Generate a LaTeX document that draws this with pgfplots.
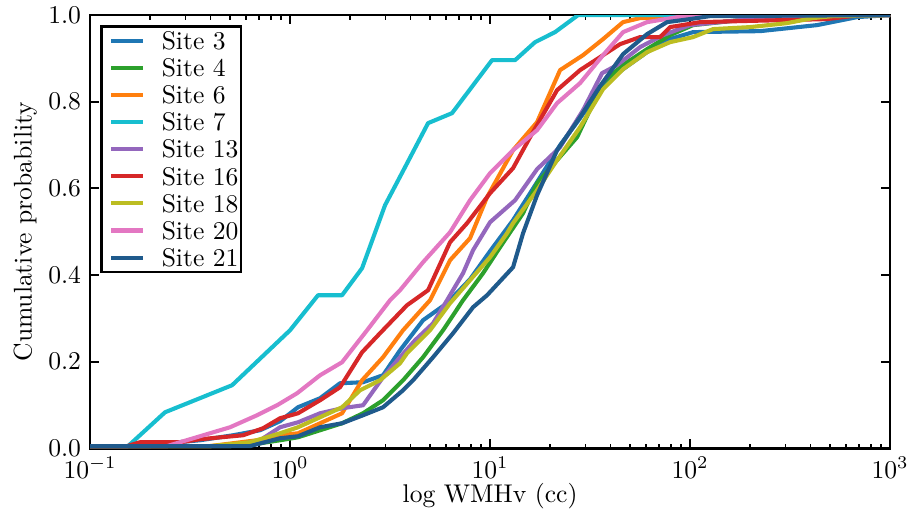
\documentclass[border=0pt]{standalone}
\usepackage{pgfplots}
\pgfplotsset{compat=1.18}
\usetikzlibrary{calc}
\definecolor{cA}{HTML}{1F77B4}
\definecolor{cB}{HTML}{2CA02C}
\definecolor{cC}{HTML}{FF7F0E}
\definecolor{cD}{HTML}{17BECF}
\definecolor{cE}{HTML}{9467BD}
\definecolor{cF}{HTML}{D62728}
\definecolor{cG}{HTML}{BCBD22}
\definecolor{cH}{HTML}{E377C2}
\definecolor{cI}{HTML}{1F5A8C}
\begin{document}
\begin{tikzpicture}
\begin{axis}[name=ax, scale only axis, width=312.7pt, height=169.3pt,
  xmode=log, xmin=0.1, xmax=1000, ymin=0, ymax=1,
  ytick={0,0.2,0.4,0.6,0.8,1},
  yticklabel style={/pgf/number format/.cd, fixed, fixed zerofill, precision=1},
  axis line style={line width=1pt, black},
  tick align=inside,
  major tick length=3.5pt, minor tick length=1.8pt,
  every tick/.style={black, line width=0.7pt},
  xlabel={log WMHv (cc)}, ylabel={Cumulative probability},
  xlabel style={at={(axis description cs:0.5,-0.111)}, anchor=center},
  ylabel style={at={(axis description cs:-0.081,0.5)}, anchor=center},
  every axis plot/.append style={line width=1.6pt, line join=round},
  legend style={at={(0.0125,0.977)}, anchor=north west, draw=black, line width=1pt,
    fill=white, font=\normalsize, row sep=0pt, inner xsep=0pt, inner ysep=0.3pt,
    nodes={inner xsep=1pt, inner ysep=1.85pt, text height=6.9pt, text depth=0pt},
    /tikz/every odd column/.append style={column sep=5.5pt}},
  legend cell align=left,
  legend image code/.code={\path (-3pt,0pt); \draw[#1] (0cm,0cm) -- (0.44cm,0cm);},
]
\addplot[cA] coordinates {(0.1,0.005)(0.1995,0.005)(0.2427,0.0115)(0.3548,0.0185)(0.5188,0.03)(0.7079,0.0416)(0.8913,0.0624)(1.096,0.0947)(1.413,0.1155)(1.778,0.1501)(2.317,0.1524)(2.917,0.1686)(3.548,0.2263)(4.624,0.2956)(6.095,0.3349)(7.943,0.3903)(10,0.455)(13.03,0.5266)(17.18,0.6143)(22.39,0.6998)(28.18,0.7621)(36.73,0.8383)(46.24,0.8753)(60.95,0.9145)(79.43,0.9446)(103.5,0.9607)(223.9,0.963)(431.5,0.9769)(683.9,0.9954)(1000,1.0)};
\addlegendentry{Site 3}
\addplot[cB] coordinates {(0.1,0.005)(0.5012,0.005)(0.7079,0.0115)(0.8913,0.0185)(1.096,0.0254)(1.413,0.0416)(1.820,0.0577)(2.317,0.0808)(2.917,0.1109)(3.673,0.157)(4.624,0.2102)(5.821,0.2725)(7.328,0.3418)(9.226,0.4042)(11.22,0.4642)(14.62,0.5427)(17.18,0.612)(21.63,0.6651)(27.23,0.7182)(36.73,0.845)(46.24,0.885)(60.95,0.9215)(79.43,0.9538)(103.5,0.9769)(177.8,0.9885)(281.8,1.0)(1000,1.0)};
\addlegendentry{Site 4}
\addplot[cC] coordinates {(0.1,0.005)(0.3981,0.005)(0.6839,0.0185)(0.8913,0.03)(1.096,0.0346)(1.413,0.0577)(1.820,0.0808)(2.291,0.157)(2.917,0.2102)(3.673,0.2725)(5.012,0.3418)(6.310,0.4342)(7.943,0.485)(9.661,0.5797)(13.03,0.6882)(17.18,0.7529)(22.39,0.873)(29.17,0.9076)(36.73,0.9446)(46.24,0.9838)(56.23,0.9931)(103.5,0.9931)(116.1,1.0)(1000,1.0)};
\addlegendentry{Site 6}
\addplot[cD] coordinates {(0.1,0.005)(0.1549,0.005)(0.2371,0.0831)(0.5129,0.1455)(1,0.2725)(1.380,0.3533)(1.820,0.3533)(2.291,0.4157)(2.985,0.5612)(3.758,0.649)(4.898,0.7506)(6.457,0.7737)(10.23,0.8961)(13.34,0.8961)(16.79,0.9376)(21.13,0.9607)(27.54,1.0)(1000,1.0)};
\addlegendentry{Site 7}
\addplot[cE] coordinates {(0.1,0.005)(0.5012,0.005)(0.7079,0.0185)(0.8913,0.0485)(1.096,0.06)(1.413,0.0808)(1.820,0.0924)(2.317,0.0993)(2.917,0.164)(3.548,0.2102)(4.217,0.2494)(5.188,0.2887)(6.095,0.3418)(7.328,0.4042)(8.222,0.4573)(10,0.5219)(13.34,0.5727)(17.18,0.6443)(22.39,0.6952)(29.17,0.7806)(36.31,0.866)(43.15,0.8845)(56.23,0.9261)(73.28,0.9538)(100,0.9769)(177.8,0.9885)(354.8,0.9954)(631,1.0)(1000,1.0)};
\addlegendentry{Site 13}
\addplot[cF] coordinates {(0.1,0.005)(0.1531,0.005)(0.1778,0.0139)(0.2818,0.0139)(0.3548,0.0208)(0.5821,0.03)(0.7328,0.0462)(0.8913,0.0693)(1.096,0.0808)(1.413,0.1109)(1.778,0.1409)(2.291,0.2217)(2.818,0.2656)(3.846,0.3303)(4.898,0.3649)(6.310,0.4758)(7.674,0.5196)(10,0.5889)(13.03,0.6467)(15.85,0.7182)(21.63,0.8268)(28.18,0.873)(35.48,0.903)(44.67,0.933)(56.23,0.9492)(70.79,0.9492)(79.43,0.9723)(112.2,0.9838)(177.8,0.9861)(484.2,0.9908)(707.9,1.0)(1000,1.0)};
\addlegendentry{Site 16}
\addplot[cG] coordinates {(0.1,0.005)(0.3981,0.005)(0.6310,0.0139)(0.8913,0.0346)(1.096,0.0485)(1.413,0.0716)(1.820,0.0947)(2.239,0.1339)(2.818,0.157)(3.548,0.1963)(3.846,0.2194)(5.012,0.2725)(6.310,0.3349)(7.943,0.388)(10,0.4411)(12.16,0.4965)(13.03,0.5196)(17.18,0.5958)(21.63,0.6651)(28.18,0.7413)(36.73,0.8291)(46.24,0.8753)(60.95,0.9145)(79.43,0.9376)(103.5,0.9492)(130.3,0.9677)(199.5,0.9723)(305.5,0.9815)(412.1,0.9931)(518.8,0.9977)(1000,1.0)};
\addlegendentry{Site 18}
\addplot[cH] coordinates {(0.1,0.005)(0.2427,0.005)(0.5012,0.0485)(0.6839,0.0762)(0.8610,0.0993)(1.084,0.127)(1.413,0.1686)(1.820,0.1986)(2.427,0.2725)(3.162,0.3418)(3.548,0.3649)(4.624,0.4296)(6.310,0.4988)(7.943,0.5727)(10,0.6351)(13.03,0.6882)(17.18,0.7344)(21.63,0.7968)(28.18,0.843)(36.73,0.9076)(46.24,0.9607)(60.95,0.9838)(100,1.0)(1000,1.0)};
\addlegendentry{Site 20}
\addplot[cI] coordinates {(0.1,0.005)(0.6310,0.005)(0.8913,0.0231)(1.096,0.0277)(1.413,0.0485)(1.820,0.0577)(2.317,0.0762)(2.917,0.0947)(3.673,0.1339)(4.121,0.157)(5.188,0.2102)(6.531,0.2656)(8.222,0.3256)(9.661,0.3533)(13.03,0.418)(14.62,0.4965)(17.18,0.5843)(21.63,0.6882)(28.18,0.7644)(35.48,0.836)(46.24,0.9099)(60.95,0.9561)(76.74,0.9838)(100,0.9908)(125.9,0.9977)(1000,1.0)};
\addlegendentry{Site 21}
\end{axis}
\pgfresetboundingbox
\useasboundingbox ($(ax.south west)+(-35.2pt,-26.6pt)$) rectangle ($(ax.north east)+(7.0pt,5.9pt)$);
\end{tikzpicture}
\end{document}
